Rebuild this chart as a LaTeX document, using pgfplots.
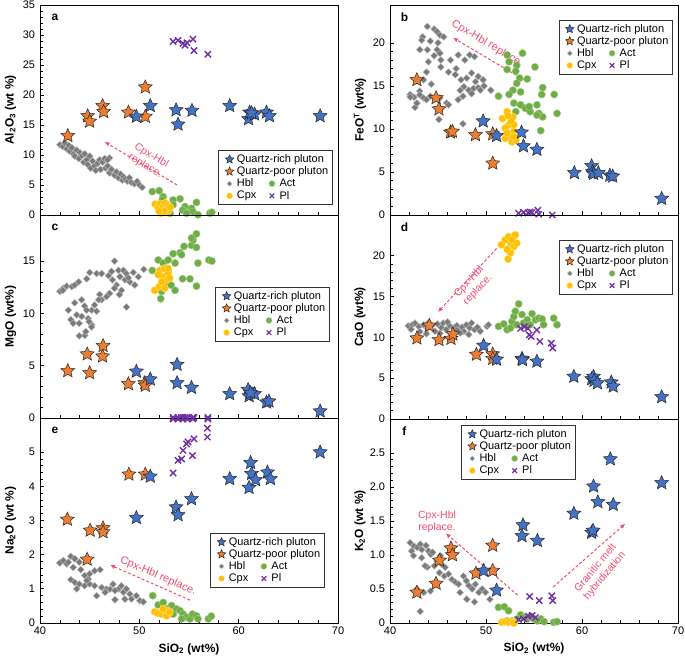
\documentclass[border=0pt]{standalone}
\usepackage{pgfplots}
\pgfplotsset{compat=1.18}
\usepackage{fontspec}
\setmainfont{Liberation Sans}
\usetikzlibrary{arrows.meta}

\definecolor{qblue}{HTML}{4472C4}
\definecolor{qorange}{HTML}{ED7D31}
\definecolor{hblgray}{HTML}{7A7A7A}
\definecolor{hbledge}{HTML}{C4C4C4}
\definecolor{actgreen}{HTML}{70AD47}
\definecolor{actedge}{HTML}{A9D18E}
\definecolor{cpxyellow}{HTML}{FFC000}
\definecolor{cpxedge}{HTML}{FFE08A}
\definecolor{plpurple}{HTML}{7030A0}
\definecolor{arrowpink}{HTML}{F04E6E}

\pgfdeclareplotmark{fstar}{%
  \pgfpathmoveto{\pgfpointpolar{90}{\pgfplotmarksize}}%
  \pgfpathlineto{\pgfpointpolar{126}{0.47\pgfplotmarksize}}%
  \pgfpathlineto{\pgfpointpolar{162}{\pgfplotmarksize}}%
  \pgfpathlineto{\pgfpointpolar{198}{0.47\pgfplotmarksize}}%
  \pgfpathlineto{\pgfpointpolar{234}{\pgfplotmarksize}}%
  \pgfpathlineto{\pgfpointpolar{270}{0.47\pgfplotmarksize}}%
  \pgfpathlineto{\pgfpointpolar{306}{\pgfplotmarksize}}%
  \pgfpathlineto{\pgfpointpolar{342}{0.47\pgfplotmarksize}}%
  \pgfpathlineto{\pgfpointpolar{18}{\pgfplotmarksize}}%
  \pgfpathlineto{\pgfpointpolar{54}{0.47\pgfplotmarksize}}%
  \pgfpathclose
  \pgfusepathqfillstroke}

\pgfplotsset{
  qrich/.style={only marks, mark=fstar, mark size=7.3, fill=qblue, draw=black!85, line width=0.5pt},
  qpoor/.style={only marks, mark=fstar, mark size=7.3, fill=qorange, draw=black!85, line width=0.5pt},
  hbl/.style={only marks, mark=square*, mark size=2.5, line width=0.35pt,
    mark options={rotate=45, fill=hblgray, draw=hbledge}},
  act/.style={only marks, mark=*, mark size=3.7, fill=actgreen, draw=actedge, line width=0.4pt},
  cpx/.style={only marks, mark=*, mark size=3.8, fill=cpxyellow, draw=cpxedge, line width=0.4pt},
  pl/.style={only marks, mark=x, mark size=4.4, draw=plpurple, line width=1.4pt},
  panel/.style={
    scale only axis,
    xmin=40, xmax=70, xtick={40,50,60,70}, minor x tick num=4,
    minor y tick num=4,
    xtick pos=bottom, ytick pos=left,
    tick align=inside,
    major tick length=4bp, minor tick length=2.5bp,
    axis line style={line width=0.9bp, black},
    tick style={line width=0.7bp, black},
    every tick label/.append style={font=\fontsize{11}{13}\selectfont},
    yticklabel style={xshift=-1.5bp},
    /pgf/number format/assume math mode=true,
    label style={font=\bfseries\fontsize{12}{14}\selectfont},
    legend cell align=left, legend columns=2,
    legend image code/.code={\path (0bp,0bp) (12bp,0bp); \draw[##1] plot coordinates {(6bp,0bp)};},
    legend style={draw=black!80, line width=0.8bp, fill=white,
      font=\fontsize{11}{13}\selectfont, inner xsep=4.5bp, inner ysep=3bp,
      row sep=0.7bp, nodes={inner sep=1bp}},
  },
  leftpanel/.style={panel, width=298bp,
    ylabel style={at={(axis description cs:-0.099,0.5)}, anchor=center}},
  rightpanel/.style={panel, width=288bp,
    ylabel style={at={(axis description cs:-0.104,0.5)}, anchor=center}},
  botpanel/.style={xlabel={SiO\textsubscript{2} (wt\%)},
    xlabel style={at={(axis description cs:0.5,-0.127)}, anchor=center}},
}

\newcommand{\mylegend}{%
  \addlegendimage{qrich, mark size=4.5}\addlegendentry{\rlap{Quartz-rich pluton}\vphantom{Qp}}
  \addlegendimage{empty legend}\addlegendentry{}
  \addlegendimage{qpoor, mark size=4.5}\addlegendentry{\rlap{Quartz-poor pluton}\vphantom{Qp}}
  \addlegendimage{empty legend}\addlegendentry{}
  \addlegendimage{hbl, mark size=1.8}\addlegendentry{\makebox[27.5bp][l]{Hbl\vphantom{Qp}}}
  \addlegendimage{act, mark size=3}\addlegendentry{\makebox[47.5bp][l]{Act\vphantom{Qp}}}
  \addlegendimage{cpx, mark size=3}\addlegendentry{\makebox[27.5bp][l]{Cpx\vphantom{Qp}}}
  \addlegendimage{pl, mark size=3.2, line width=1.2pt}\addlegendentry{\makebox[47.5bp][l]{Pl\vphantom{Qp}}}
}
\newcommand{\panellabel}[1]{\node[font=\bfseries\fontsize{12}{14}\selectfont] at (rel axis cs:0.05,0.94) {#1};}
\tikzset{pinkarrow/.style={arrowpink, dash pattern=on 3pt off 2pt, line width=1pt, -{Latex[length=5pt,width=4.5pt]}},
  pinktext/.style={text=arrowpink, align=center, font=\fontsize{10.5}{12}\selectfont, inner sep=0pt}}

\begin{document}
\begin{tikzpicture}[x=1bp,y=1bp]
\useasboundingbox (0,0) rectangle (685,657);

% ---------------- panel a ----------------
\begin{axis}[leftpanel, at={(40bp,442bp)}, anchor=south west, height=210bp,
  ymin=0, ymax=35, ytick={0,5,...,35}, xticklabels={},
  ylabel={Al\textsubscript{2}O\textsubscript{3} (wt \%)},
  legend style={at={(0.983,0.048)}, anchor=south east}]
\addplot[hbl, forget plot] coordinates {(42.0,11.7)(42.3,11.4)(42.5,12.0)(42.7,11.0)(42.9,11.6)(43.0,10.6)(43.2,11.2)(43.4,10.2)(43.5,9.8)(43.7,10.8)(43.9,9.4)(44.0,10.4)(44.2,9.9)(44.4,8.8)(44.5,10.2)(44.7,9.2)(44.8,8.4)(45.0,9.8)(45.1,7.8)(45.3,9.0)(45.5,8.2)(45.6,7.4)(45.8,8.6)(46.0,9.2)(46.1,7.6)(46.3,8.8)(46.5,9.4)(46.6,7.8)(46.8,8.2)(47.0,7.0)(47.2,7.6)(47.5,6.6)(47.7,7.2)(47.9,6.2)(48.1,6.8)(48.3,5.8)(48.4,6.4)(48.6,6.0)(48.8,5.6)(49.0,6.2)(49.2,5.4)(49.5,5.2)(49.8,5.6)(50.0,5.0)(50.3,4.6)(47.0,9.5)(46.8,9.2)};
\addplot[act, forget plot] coordinates {(51.3,3.9)(52.0,4.05)(52.4,3.05)(52.3,2.5)(53.4,2.5)(54.1,2.7)(53.4,1.7)(54.6,1.4)(54.35,0.8)(55.25,1.1)(55.75,2.1)(55.4,0.55)(55.9,0.05)(57.1,0.3)(57.3,0.45)(52.7,1.7)(53.1,0.3)(54.75,0.3)};
\addplot[cpx, forget plot] coordinates {(51.6,1.8)(51.9,1.2)(52.1,1.9)(52.3,0.8)(52.4,1.5)(52.6,2.0)(52.7,1.1)(52.8,0.4)(52.9,1.6)(53.0,0.9)(52.2,0.3)(52.5,0.6)(53.1,1.3)(52.0,0.6)};
\addplot[pl, forget plot] coordinates {(53.4,28.9)(53.9,29.1)(54.4,28.6)(54.6,28.3)(54.8,28.7)(55.4,29.3)(55.5,27.4)(56.9,26.8)};
\addplot[qpoor, forget plot] coordinates {(42.8,13.2)(44.8,16.5)(45.0,15.6)(46.3,18.2)(46.4,17.2)(48.9,17.1)(50.6,21.3)(50.6,16.4)};
\addplot[qrich, forget plot] coordinates {(49.7,16.4)(51.1,18.2)(53.7,17.5)(53.9,15.1)(55.3,17.4)(59.1,18.2)(61.0,16.0)(61.1,17.1)(61.6,16.8)(62.8,17.1)(63.1,16.5)(68.2,16.5)(61.3,17.0)};
\draw[pinkarrow] (axis cs:53.8,5.0) -- (axis cs:46.5,12.2);
\node[pinktext, rotate=-31] at (axis cs:50.9,9.0) {Cpx-Hbl\\replace.};
\panellabel{a}
\mylegend
\end{axis}

% ---------------- panel c ----------------
\begin{axis}[leftpanel, at={(40bp,239bp)}, anchor=south west, height=203bp,
  ymin=0, ymax=19.4, ytick={0,5,10,15}, xticklabels={},
  ylabel={MgO (wt\%)},
  legend style={at={(0.973,0.645)}, anchor=north east}]
\addplot[hbl, forget plot] coordinates {(42.0,12.1)(42.35,12.4)(42.7,12.6)(43.2,12.55)(43.5,12.7)(43.9,13.0)(44.7,13.3)(45.0,13.9)(45.7,13.8)(46.2,13.8)(46.9,13.6)(47.5,15.0)(47.2,14.0)(47.9,14.1)(48.05,13.5)(48.4,14.1)(48.7,13.8)(49.4,13.9)(49.9,13.5)(50.45,14.2)(48.55,13.2)(47.7,12.7)(48.2,12.2)(47.5,12.4)(47.0,11.9)(48.0,11.8)(46.7,11.6)(46.0,11.8)(46.2,11.3)(48.7,10.6)(49.55,12.7)(49.05,13.0)(42.85,10.3)(43.5,11.0)(44.2,11.3)(44.5,10.7)(45.2,10.3)(45.9,11.3)(45.5,10.8)(43.1,9.4)(43.7,9.85)(44.2,9.7)(44.7,10.3)(43.35,9.05)(43.95,9.05)(44.85,9.5)(45.2,8.9)(45.7,10.2)(44.5,7.9)(43.95,7.85)(44.6,8.25)(45.2,8.7)(44.95,9.2)(42.3,12.2)(47.3,13.2)(48.9,13.4)};
\addplot[act, forget plot] coordinates {(51.9,15.1)(52.4,14.8)(53.4,15.7)(54.1,15.8)(54.5,16.4)(55.25,16.5)(55.4,17.0)(55.75,17.6)(55.25,17.2)(55.75,16.3)(54.25,15.6)(53.6,14.8)(52.9,14.1)(52.75,13.0)(51.3,14.1)(52.15,11.4)(53.6,12.2)(54.35,13.3)(55.1,13.3)(55.75,12.6)(55.9,14.8)(57.0,15.1)(57.3,15.0)(52.25,12.1)(53.2,12.7)(52.9,15.1)};
\addplot[cpx, forget plot] coordinates {(51.55,12.2)(52.0,12.55)(52.4,13.5)(52.05,14.1)(52.55,14.3)(52.9,13.8)(52.75,13.2)(53.05,13.35)(52.25,13.0)(52.55,12.4)(51.9,13.7)(52.9,14.3)};
\addplot[pl, forget plot] coordinates {(53.4,0.05)(53.9,0.05)(54.2,0.05)(54.4,0.05)(54.6,0.05)(54.8,0.05)(55.4,0.05)(55.5,0.05)(56.9,0.05)};
\addplot[qpoor, forget plot] coordinates {(42.8,4.5)(44.75,6.1)(45.0,4.3)(46.3,5.9)(46.35,6.9)(48.9,3.25)(50.55,3.35)(50.6,3.1)};
\addplot[qrich, forget plot] coordinates {(49.7,4.45)(51.1,3.7)(53.8,5.1)(53.8,3.35)(55.25,2.9)(59.1,2.3)(60.95,2.7)(61.05,2.1)(61.6,2.3)(62.8,1.5)(63.05,1.6)(68.2,0.65)(61.2,2.4)};
\panellabel{c}
\mylegend
\end{axis}

% ---------------- panel e ----------------
\begin{axis}[leftpanel, botpanel, at={(40bp,34bp)}, anchor=south west, height=205bp,
  ymin=0, ymax=6, ytick={0,1,...,5},
  ylabel={Na\textsubscript{2}O (wt \%)},
  legend style={at={(0.956,0.439)}, anchor=north east}]
\addplot[hbl, forget plot] coordinates {(42.0,1.76)(42.35,1.83)(42.7,1.73)(43.1,1.95)(43.5,1.88)(42.85,1.78)(43.35,1.63)(43.95,1.78)(44.1,1.56)(44.5,1.39)(44.85,1.29)(45.5,1.53)(46.05,1.56)(45.0,1.44)(43.1,1.27)(43.5,1.19)(43.95,1.14)(44.5,1.09)(45.0,1.14)(45.5,1.09)(45.7,0.8)(46.2,1.04)(46.7,0.99)(47.05,0.99)(47.35,1.14)(47.55,0.68)(47.9,1.0)(48.2,1.09)(48.4,0.9)(48.7,1.0)(49.05,0.85)(49.2,0.7)(49.7,0.8)(50.05,0.65)(50.4,0.62)(48.55,0.7)(47.55,0.95)(46.55,0.9)(44.7,1.24)(43.7,1.0)};
\addplot[act, forget plot] coordinates {(51.35,0.8)(51.9,0.53)(52.4,0.6)(52.75,0.41)(53.25,0.51)(53.75,0.41)(54.1,0.36)(54.4,0.26)(54.75,0.17)(55.1,0.12)(55.35,0.26)(55.75,0.21)(55.9,0.12)(56.95,0.12)(57.25,0.2)(54.25,0.12)(53.4,0.26)};
\addplot[cpx, forget plot] coordinates {(51.55,0.33)(51.9,0.28)(52.25,0.26)(52.55,0.33)(52.75,0.21)(52.9,0.36)(52.4,0.41)(53.05,0.31)};
\addplot[pl, forget plot] coordinates {(53.4,4.39)(53.9,4.76)(54.25,4.8)(54.4,5.05)(54.75,5.24)(55.35,4.9)(55.5,5.39)(56.85,5.44)(56.85,5.7)(56.9,5.97)(53.4,5.97)(53.9,5.97)(54.4,5.97)(54.8,5.97)(55.4,5.97)(54.9,5.3)};
\addplot[qpoor, forget plot] coordinates {(42.75,3.03)(44.75,1.86)(45.05,2.71)(46.35,2.78)(46.35,2.66)(48.95,4.35)(50.6,4.35)};
\addplot[qrich, forget plot] coordinates {(49.7,3.08)(51.1,4.29)(53.7,3.39)(53.9,3.16)(55.25,3.63)(59.1,4.22)(61.05,3.96)(61.2,4.69)(61.3,4.37)(61.7,4.19)(62.9,4.41)(63.2,4.22)(68.2,5.0)};
\draw[pinkarrow] (axis cs:55.1,0.67) -- (axis cs:47.05,1.70);
\node[pinktext, rotate=-23, font=\fontsize{11}{12}\selectfont] at (axis cs:51.9,1.37) {Cpx-Hbl replace.};
\panellabel{e}
\mylegend
\end{axis}

% ---------------- panel b ----------------
\begin{axis}[rightpanel, at={(390bp,442bp)}, anchor=south west, height=210bp,
  ymin=0, ymax=24.4, ytick={0,5,...,20}, xticklabels={},
  ylabel={FeO\textsuperscript{T} (wt\%)},
  legend style={at={(0.983,0.929)}, anchor=north east}]
\addplot[hbl, forget plot] coordinates {(43.9,21.9)(44.6,21.6)(44.9,21.3)(45.2,20.9)(45.6,20.7)(43.4,20.7)(43.3,20.3)(44.2,20.2)(45.0,20.0)(43.1,19.2)(43.9,19.2)(44.9,19.2)(45.2,18.8)(44.6,18.5)(44.0,17.8)(45.3,18.0)(46.3,18.0)(47.1,18.6)(47.8,18.0)(48.3,18.6)(48.8,18.4)(43.8,16.6)(43.5,15.7)(44.3,15.2)(45.3,17.2)(46.1,16.6)(46.9,17.0)(46.8,16.3)(47.4,15.7)(48.0,15.9)(48.5,16.5)(48.9,15.5)(49.2,16.1)(49.7,15.7)(49.8,15.0)(50.5,14.5)(47.3,14.5)(47.7,14.9)(48.2,14.5)(48.7,14.7)(49.2,14.8)(47.1,13.4)(47.6,13.8)(48.5,14.1)(49.4,14.5)(42.1,14.0)(42.5,13.7)(42.6,12.5)(43.1,14.4)(43.5,13.6)(44.2,13.8)(45.1,11.1)(45.9,13.0)(46.1,12.8)(47.6,10.6)(42.1,13.7)(43.1,13.95)(43.8,13.4)(45.2,13.6)(42.8,13.0)};
\addplot[act, forget plot] coordinates {(52.2,18.6)(53.8,18.8)(52.4,17.8)(53.2,17.4)(55.1,17.2)(52.2,16.9)(53.1,16.7)(53.5,15.9)(54.3,15.8)(53.2,15.3)(52.8,14.5)(53.6,14.3)(55.9,14.8)(51.3,13.8)(52.4,14.0)(55.8,14.0)(57.1,14.0)(52.9,13.0)(53.6,12.8)(54.1,12.4)(54.6,12.0)(55.3,12.8)(55.5,11.8)(55.9,11.4)(55.3,11.6)(57.4,11.8)(53.1,12.0)(55.7,9.8)(54.5,12.6)};
\addplot[cpx, forget plot] coordinates {(51.7,11.2)(52.2,12.0)(52.8,11.4)(52.4,10.5)(52.0,10.1)(52.9,9.7)(52.5,9.1)(52.0,8.9)(52.7,8.5)(53.1,8.7)(52.9,10.5)(52.6,10.9)(52.2,9.5)(52.9,9.1)(52.3,11.5)};
\addplot[pl, forget plot] coordinates {(53.4,0.2)(53.9,0.3)(54.4,0.25)(54.6,0.35)(54.8,0.3)(55.4,0.55)(55.5,0.1)(56.9,0.0)};
\addplot[qpoor, forget plot] coordinates {(42.8,15.7)(44.8,13.6)(45.1,12.3)(46.3,9.6)(46.5,9.7)(48.9,9.3)(50.7,9.4)(50.7,6.0)};
\addplot[qrich, forget plot] coordinates {(49.7,10.9)(51.1,9.2)(53.7,9.6)(53.9,8.0)(55.3,7.6)(59.2,4.9)(61.0,5.7)(61.1,5.0)(61.2,4.8)(61.7,4.9)(62.9,4.6)(63.2,4.5)(68.3,1.9)};
\draw[pinkarrow] (axis cs:54.06,15.64) -- (axis cs:46.56,20.6);
\node[pinktext, rotate=-31, font=\fontsize{11}{12}\selectfont] at (axis cs:50.0,20.0) {Cpx-Hbl replace};
\panellabel{b}
\mylegend
\end{axis}

% ---------------- panel d ----------------
\begin{axis}[rightpanel, at={(390bp,238bp)}, anchor=south west, height=204bp,
  ymin=0, ymax=25, ytick={0,5,...,20}, xticklabels={},
  ylabel={CaO (wt\%)},
  legend style={at={(0.983,0.877)}, anchor=north east}]
\addplot[hbl, forget plot] coordinates {(41.9,11.4)(42.3,11.55)(42.6,11.75)(43.0,11.3)(43.1,10.7)(43.5,11.55)(43.9,11.15)(44.35,11.45)(44.7,10.75)(44.95,11.65)(45.35,11.2)(45.55,11.75)(45.85,10.95)(46.2,11.45)(46.6,11.15)(46.95,11.45)(47.5,11.25)(47.7,10.75)(47.95,11.55)(48.3,11.15)(48.5,11.75)(48.8,10.95)(49.1,11.25)(49.4,10.75)(50.1,11.35)(50.25,11.55)(48.2,10.35)(47.3,10.55)(45.2,10.5)(43.8,10.45)(42.2,11.0)(44.0,11.8)(46.0,11.9)(47.0,10.9)};
\addplot[act, forget plot] coordinates {(51.3,11.35)(51.85,11.65)(52.2,10.95)(52.55,11.15)(52.7,11.95)(52.9,12.55)(53.05,13.2)(53.4,14.1)(53.75,12.8)(53.9,11.75)(54.3,12.15)(54.6,11.55)(55.15,12.15)(55.5,12.35)(55.85,12.25)(56.0,11.55)(57.05,12.35)(57.4,11.55)(54.8,12.9)(53.2,11.55)};
\addplot[cpx, forget plot] coordinates {(51.6,21.35)(52.0,21.95)(52.35,22.35)(52.6,21.55)(53.05,22.55)(52.9,21.15)(52.55,20.35)(52.3,19.6)(53.2,21.55)(52.2,20.8)(52.7,21.95)};
\addplot[pl, forget plot] coordinates {(53.6,11.1)(54.35,11.1)(54.5,10.3)(54.7,10.1)(55.3,10.9)(55.6,9.5)(56.8,9.3)(56.95,8.7)(54.0,11.3)};
\addplot[qpoor, forget plot] coordinates {(42.8,9.9)(44.1,11.45)(45.1,9.7)(46.35,9.85)(46.55,10.4)(49.0,7.9)(50.7,7.95)(50.7,7.4)};
\addplot[qrich, forget plot] coordinates {(49.75,9.0)(51.1,7.3)(53.75,7.4)(53.8,7.25)(55.3,7.05)(59.15,5.2)(61.0,4.9)(61.2,5.2)(61.25,4.7)(61.6,4.4)(63.05,4.5)(63.25,4.0)(68.3,2.7)};
\draw[pinkarrow] (axis cs:51.1,20.9) -- (axis cs:45.0,13.1);
\node[pinktext, rotate=47] at (axis cs:48.7,16.3) {Cpx-Hbl\\replace.};
\panellabel{d}
\mylegend
\end{axis}

% ---------------- panel f ----------------
\begin{axis}[rightpanel, botpanel, at={(390bp,34bp)}, anchor=south west, height=204bp,
  ymin=0, ymax=3, ytick={0,0.5,...,2.5}, yticklabels={0,0.5,1.0,1.5,2.0,2.5},
  ylabel={K\textsubscript{2}O (wt \%)},
  legend style={at={(0.247,0.97)}, anchor=north west}]
\addplot[hbl, forget plot] coordinates {(42.1,1.18)(42.5,1.13)(42.25,1.06)(42.85,1.11)(43.15,1.16)(43.3,1.08)(43.75,1.14)(44.0,1.06)(44.25,1.01)(42.45,0.99)(43.3,0.96)(43.9,0.82)(44.6,0.84)(44.9,0.91)(45.25,0.99)(45.4,0.86)(45.75,0.82)(45.15,0.74)(45.65,0.69)(46.1,0.72)(46.45,0.64)(46.8,0.6)(47.15,0.57)(47.65,0.69)(47.95,0.62)(48.2,0.55)(48.55,0.5)(48.9,0.57)(49.25,0.45)(49.6,0.5)(49.95,0.45)(50.4,0.35)(48.8,0.31)(48.0,0.35)(47.3,0.45)(42.8,0.5)(43.5,0.45)(44.2,0.47)(43.15,0.17)(43.65,0.84)(44.45,1.04)};
\addplot[act, forget plot] coordinates {(51.3,0.23)(51.9,0.24)(52.35,0.18)(53.6,0.12)(53.95,0.08)(54.3,0.06)(55.0,0.06)(55.35,0.03)(55.7,0.06)(56.05,0.02)(57.05,0.01)(57.4,0.02)(53.25,0.06)(52.7,0.03)(52.2,0.03)(54.6,0.1)};
\addplot[cpx, forget plot] coordinates {(51.65,0.01)(52.0,0.02)(52.35,0.01)(52.7,0.02)(52.9,0.0)};
\addplot[pl, forget plot] coordinates {(54.55,0.39)(55.55,0.33)(56.85,0.40)(56.95,0.33)(54.8,0.11)(55.15,0.08)(53.4,0.05)(53.9,0.06)(54.4,0.1)};
\addplot[qpoor, forget plot] coordinates {(42.8,0.45)(44.8,0.58)(45.15,0.92)(46.35,1.1)(46.5,1.0)(48.95,0.73)(50.7,0.77)(50.7,1.14)};
\addplot[qrich, forget plot] coordinates {(49.75,0.77)(51.1,0.48)(53.75,1.28)(53.85,1.44)(55.35,1.21)(59.15,1.61)(61.0,1.33)(61.15,1.36)(61.2,2.01)(61.65,1.78)(62.95,2.41)(63.25,1.74)(68.3,2.06)};
\draw[pinkarrow] (axis cs:53.3,0.41) -- (axis cs:45.8,1.32);
\node[pinktext] at (axis cs:44.9,1.49) {Cpx-Hbl\\replace.};
\draw[pinkarrow] (axis cs:57.0,0.53) -- (axis cs:64.5,1.46);
\node[pinktext, rotate=50] at (axis cs:61.9,0.75) {Granitic melt\\hybridization};
\panellabel{f}
\mylegend
\end{axis}
\end{tikzpicture}
\end{document}
